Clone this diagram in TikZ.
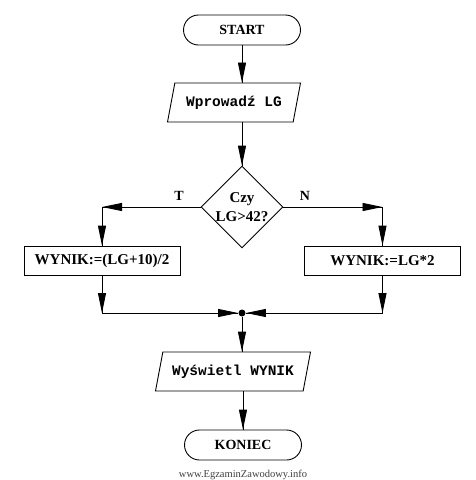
\documentclass[tikz,border=0pt]{standalone}
\usepackage{fontspec}
\setmainfont{Liberation Serif}
\setmonofont{Liberation Mono}
\usetikzlibrary{shapes.geometric,decorations.markings,arrows.meta}

\begin{document}
\begin{tikzpicture}[x=1pt,y=-1pt,line width=0.9pt,
	term/.style={draw,rectangle,rounded corners=15pt,minimum width=117pt,minimum height=30pt,
		font=\fontsize{14pt}{16pt}\selectfont\bfseries},
	io/.style={draw,trapezium,trapezium left angle=70,trapezium right angle=110,
		trapezium stretches body,minimum height=39pt,
		font=\fontsize{14.5pt}{16pt}\selectfont\ttfamily\bfseries},
	proc/.style={draw,rectangle,minimum width=156pt,minimum height=29pt,
		font=\fontsize{15pt}{17pt}\selectfont\bfseries},
	cond/.style={draw,diamond,minimum size=82pt,inner sep=0pt,align=center,
		font=\fontsize{15pt}{19pt}\selectfont\bfseries},
	flow/.style={decoration={markings,
		mark=at position 1 with {\arrow{Triangle[length=20pt,width=8pt]}}},
	postaction={decorate}}]
	\useasboundingbox (0,0) rectangle (475,480);

	\node[term] (start) at (242,30) {START};
	\node[io,minimum width=133pt] (inp) at (234,102.5) {Wprowadź LG};
	\node[cond] (cond) at (242,207) {Czy\\LG>42?};
	\node[proc] (procT) at (102,260.5) {WYNIK:=(LG+10)/2};
	\node[proc] (procN) at (382.5,260.5) {WYNIK:=LG*2};
	\node[circle,fill,inner sep=0pt,minimum size=7pt] (join) at (242,313) {};
	\node[io,minimum width=155pt] (out) at (233,371.5) {Wyświetl WYNIK};
	\node[term] (stop) at (243,445) {KONIEC};

	\node[font=\fontsize{14pt}{16pt}\selectfont\bfseries] (tlabel) at (179,196) {T};
	\node[font=\fontsize{14pt}{16pt}\selectfont\bfseries] (nlabel) at (305,196) {N};
	\node[font=\fontsize{10.5pt}{12pt}\selectfont,text=black!75] (www) at (243,475) {www.EgzaminZawodowy.info};

	\coordinate (tcorner) at (procT |- cond.west);
	\coordinate (ncorner) at (procN |- cond.east);
	\coordinate (lbot) at (procT |- join);
	\coordinate (rbot) at (procN |- join);

	\draw[flow] (start.south) -- (start.south |- inp.north);
	\draw[flow] (cond.north |- inp.south) -- (cond.north);

	\draw[flow] (cond.west) -- (tcorner);
	\draw[flow] (tcorner) -- (procT.north);
	\draw[flow] (cond.east) -- (ncorner);
	\draw[flow] (ncorner) -- (procN.north);

	\draw[flow] (procT.south) -- (lbot);
	\draw[flow] (lbot) -- (join);
	\draw[flow] (procN.south) -- (rbot);
	\draw[flow] (rbot) -- (join);

	\draw[flow] (join) -- (join |- out.north);
	\draw[flow] (stop.north |- out.south) -- (stop.north);
\end{tikzpicture}
\end{document}
